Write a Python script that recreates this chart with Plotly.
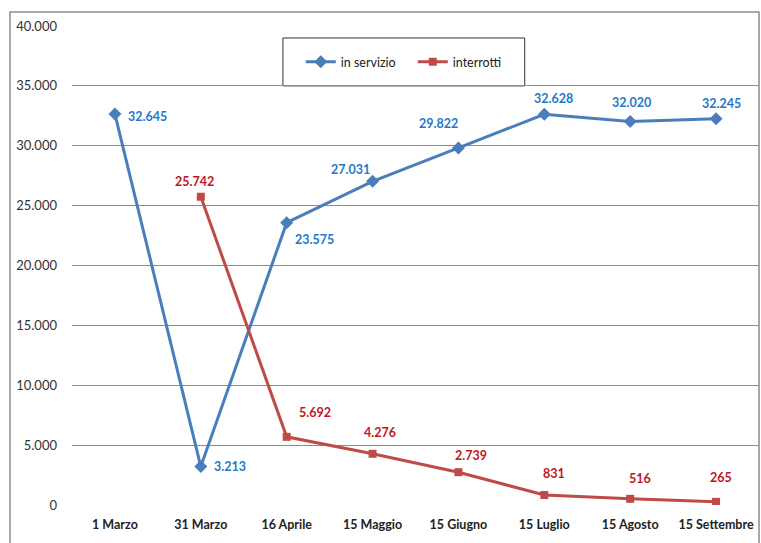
import plotly.graph_objects as go

# Dati
categorie = ["1 Marzo", "31 Marzo", "16 Aprile", "15 Maggio", "15 Giugno",
             "15 Luglio", "15 Agosto", "15 Settembre"]
in_servizio = [32645, 3213, 23575, 27031, 29822, 32628, 32020, 32245]
interrotti = [None, 25742, 5692, 4276, 2739, 831, 516, 265]
tick_valori = [0, 5000, 10000, 15000, 20000, 25000, 30000, 35000, 40000]
tick_testi = ["0", "5.000", "10.000", "15.000", "20.000", "25.000", "30.000", "35.000", "40.000"]

BLU = "#4a7ebb"
ROSSO = "#be4b48"
BLU_TXT = "#1f78c8"
ROSSO_TXT = "#c0161c"
FONT = "Lato, Noto Sans, sans-serif"


def fmt(v):
    return f"{v:,}".replace(",", ".")


fig = go.Figure()
fig.add_trace(go.Scatter(
    x=categorie, y=in_servizio, name="in servizio", mode="lines+markers",
    line=dict(color=BLU, width=3), marker=dict(symbol="diamond", size=10, color=BLU),
))
fig.add_trace(go.Scatter(
    x=categorie, y=interrotti, name="interrotti", mode="lines+markers",
    line=dict(color=ROSSO, width=3), marker=dict(symbol="square", size=8, color=ROSSO),
))

# spostamenti delle etichette (pixel) rispetto al punto
off_blu = [(33, -2), (29, 0), (28, -17), (-22, 12), (-20, 24), (9, 16), (1, 19), (5, 15)]
off_rosso = [None, (-6, 15), (28, 24), (7, 21), (13, 17), (10, 22), (10, 20), (5, 24)]

for i, v in enumerate(in_servizio):
    dx, dy = off_blu[i]
    fig.add_annotation(x=categorie[i], y=v, text=fmt(v), showarrow=False,
                       xshift=dx, yshift=dy, xref="x", yref="y",
                       font=dict(family=FONT, size=12.5, color=BLU_TXT, weight="bold"))
for i, v in enumerate(interrotti):
    if v is None:
        continue
    dx, dy = off_rosso[i]
    fig.add_annotation(x=categorie[i], y=v, text=fmt(v), showarrow=False,
                       xshift=dx, yshift=dy, xref="x", yref="y",
                       font=dict(family=FONT, size=12.5, color=ROSSO_TXT, weight="bold"))

# cornice esterna del grafico
fig.add_shape(type="rect", xref="paper", yref="paper",
              x0=-0.0903, x1=1.0, y0=-0.09, y1=1.029,
              line=dict(color="#8c8c8c", width=1.5), layer="below")
# riquadro della legenda
fig.add_shape(type="rect", xref="paper", yref="paper",
              x0=0.307, x1=0.659, y0=0.875, y1=0.975,
              line=dict(color="#333333", width=1), fillcolor="white", layer="below")

fig.update_layout(
    width=761, height=543,
    margin=dict(l=72, r=2, t=26, b=38),
    paper_bgcolor="white", plot_bgcolor="rgba(0,0,0,0)",
    font=dict(family=FONT, size=12, color="#333333"),
    showlegend=True,
    legend=dict(orientation="h", x=0.333, y=0.956, xanchor="left", yanchor="top",
                borderwidth=0, bgcolor="rgba(0,0,0,0)",
                font=dict(family=FONT, size=12.5, color="#222222"),
                entrywidth=67, itemwidth=30),
    xaxis=dict(type="category", showgrid=False, zeroline=False, showline=False,
               ticks="", ticklabelstandoff=10,
               tickfont=dict(family=FONT, size=12.5, color="#222222", weight="bold"),
               range=[-0.5, 7.5]),
    yaxis=dict(range=[0, 40000], tickvals=tick_valori, ticktext=tick_testi,
               showgrid=True, gridcolor="#8c8c8c", gridwidth=1, zeroline=False,
               showline=False, ticks="", ticklabelstandoff=14,
               tickfont=dict(family=FONT, size=13, color="#333333")),
)

fig.write_html("out.html")
